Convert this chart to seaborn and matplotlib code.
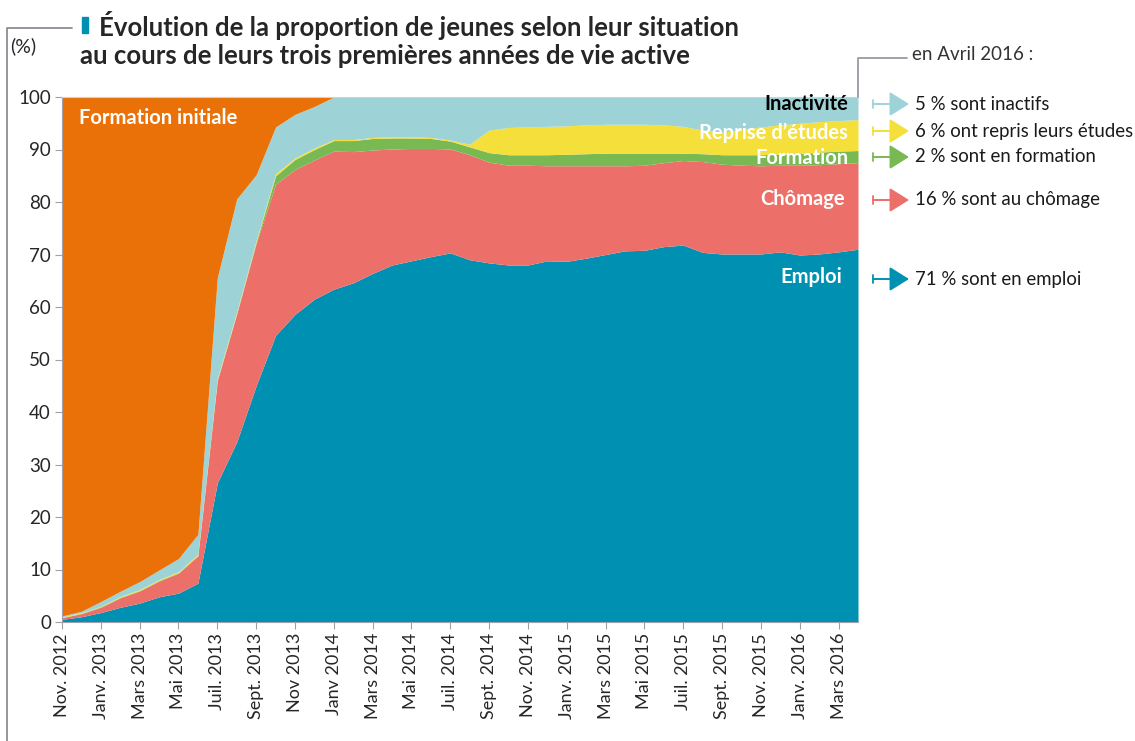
import numpy as np
import matplotlib
matplotlib.use("Agg")
from matplotlib import pyplot as plt
from matplotlib.patches import FancyArrowPatch, Rectangle
from matplotlib.lines import Line2D
import seaborn as sns

# share of young people by situation, monthly from Nov. 2012 to Apr. 2016 (%)
emploi = [0.5, 1.0, 1.8, 2.8, 3.6, 4.8, 5.5, 7.4, 26.5, 34.3, 45.0, 54.6, 58.6, 61.5,
          63.4, 64.6, 66.4, 68.0, 68.8, 69.6, 70.3, 69.0, 68.4, 68.0, 68.0, 68.8, 68.7,
          69.3, 70.0, 70.7, 70.8, 71.5, 71.8, 70.4, 70.1, 70.1, 70.1, 70.5, 69.9, 70.1,
          70.5, 71.0]
chomage = [0.3, 0.6, 1.0, 1.8, 2.3, 3.0, 3.8, 5.2, 19.5, 24.4, 27.1, 28.8, 27.6, 26.5,
           26.3, 25.0, 23.5, 22.1, 21.4, 20.6, 19.8, 20.0, 19.2, 19.0, 19.0, 18.1, 18.2,
           17.6, 16.9, 16.2, 16.2, 16.0, 16.1, 17.3, 17.1, 16.9, 16.8, 16.5, 17.1, 17.0,
           16.8, 16.5]
formation = [0.05, 0.05, 0.1, 0.1, 0.1, 0.1, 0.1, 0.1, 0.1, 0.1, 0.3, 1.6, 1.9, 2.0,
             2.0, 2.1, 2.2, 2.1, 2.0, 1.9, 1.5, 1.5, 1.8, 2.0, 2.0, 2.1, 2.2,
             2.3, 2.4, 2.4, 2.3, 1.8, 1.4, 1.5, 1.8, 2.0, 2.1, 2.1, 2.2, 2.4,
             2.4, 2.3]
reprise = [0.1, 0.1, 0.1, 0.15, 0.2, 0.2, 0.2, 0.2, 0.3, 0.3, 0.3, 0.4, 0.3, 0.3,
           0.2, 0.2, 0.2, 0.2, 0.2, 0.2, 0.2, 0.5, 4.3, 5.2, 5.3, 5.4, 5.4,
           5.5, 5.5, 5.5, 5.5, 5.4, 5.1, 4.5, 4.3, 4.8, 5.3, 5.6, 5.8, 5.8,
           5.8, 5.9]
inactivite = [0.2, 0.3, 0.9, 1.0, 1.5, 1.8, 2.5, 3.8, 19.2, 21.5, 12.5, 8.9, 8.3, 7.9,
              8.1, 8.1, 7.7, 7.6, 7.6, 7.7, 8.2, 9.0, 6.3, 5.8, 5.7, 5.6, 5.5,
              5.3, 5.2, 5.2, 5.2, 5.3, 5.6, 6.3, 6.7, 6.2, 5.7, 5.3, 5.0, 4.7,
              4.5, 4.3]
formation_initiale = [98.8, 97.9, 96.1, 94.1, 92.3, 90.1, 87.9, 83.3, 34.4, 19.4, 14.8,
                      5.7, 3.3, 1.8, 0, 0, 0, 0, 0, 0, 0, 0, 0, 0, 0, 0, 0, 0, 0, 0,
                      0, 0, 0, 0, 0, 0, 0, 0, 0, 0, 0, 0]

tick_labels = ["Nov. 2012", "Janv. 2013", "Mars 2013", "Mai 2013", "Juil. 2013",
               "Sept. 2013", "Nov 2013", "Janv 2014", "Mars 2014", "Mai 2014",
               "Juil. 2014", "Sept. 2014", "Nov. 2014", "Janv. 2015", "Mars 2015",
               "Mai 2015", "Juil. 2015", "Sept. 2015", "Nov. 2015", "Janv. 2016",
               "Mars 2016"]

notes = ["5 % sont inactifs", "6 % ont repris leurs études", "2 % sont en formation",
         "16 % sont au chômage", "71 % sont en emploi"]

colors = ["#0090b1", "#ec6f69", "#79b954", "#f5df3a", "#9dd3d7", "#ea7108"]

sns.set_style("ticks")
plt.rcParams["font.family"] = ["Lato", "DejaVu Sans"]

W, H = 1135, 741
fig = plt.figure(figsize=(W / 100, H / 100), dpi=100)
ax = fig.add_axes([62 / W, 1 - 622 / H, 796 / W, 525 / H])

x = np.arange(len(emploi))
ax.stackplot(x, emploi, chomage, formation, reprise, inactivite, formation_initiale,
             colors=colors, linewidth=0)

ax.set_xlim(0, len(emploi) - 1)
ax.set_ylim(0, 100)
ax.set_yticks(range(0, 101, 10))
ax.set_xticks(x[::2])
ax.set_xticklabels(tick_labels, rotation=90)
ax.tick_params(axis="y", labelsize=13.5, length=5, color="#a0a0aa", pad=3)
ax.tick_params(axis="x", labelsize=13, length=5, color="#a0a0aa", pad=3)
for s in ["left", "bottom"]:
    ax.spines[s].set_color("#a0a0aa")
ax.spines["top"].set_color("#d0d0d4")
ax.spines["right"].set_visible(False)

# labels inside the areas
lab = dict(fontsize=14.5, fontweight="bold", va="center")
ax.text(0.9, 96, "Formation initiale", color="white", ha="left", **lab)
ax.text(40.5, 98.6, "Inactivité", color="black", ha="right", **lab)
ax.text(40.5, 93.1, "Reprise d’études", color="white", ha="right", **lab)
ax.text(40.5, 88.4, "Formation", color="white", ha="right", **lab)
ax.text(40.3, 80.6, "Chômage", color="white", ha="right", **lab)
ax.text(40.2, 65.7, "Emploi", color="white", ha="right", **lab)


def fx(px):
    return px / W


def fy(py):
    return 1 - py / H


# right side notes with arrows
arrow_cols = [colors[4], colors[3], colors[2], colors[1], colors[0]]
arrow_y = [104, 131, 157, 200, 279]
for txt, col, py in zip(notes, arrow_cols, arrow_y):
    fig.add_artist(FancyArrowPatch((fx(873), fy(py)), (fx(909), fy(py)),
                                   transform=fig.transFigure,
                                   arrowstyle="-|>,head_length=0.8,head_width=0.5",
                                   mutation_scale=15, color=col, linewidth=1.4,
                                   shrinkA=0, shrinkB=0))
    fig.add_artist(Line2D([fx(873), fx(873)], [fy(py - 4), fy(py + 4)],
                          transform=fig.transFigure, color=col, linewidth=1.3))
    fig.text(fx(915), fy(py), txt, fontsize=13.4, color="#1a1a1a", ha="left", va="center")

fig.add_artist(Line2D([fx(858), fx(858), fx(907)], [fy(97), fy(58), fy(58)],
                      transform=fig.transFigure, color="#9a9aa5", linewidth=1.3))
fig.text(fx(912), fy(55), "en Avril 2016 :", fontsize=13.5, color="#333333",
         ha="left", va="center")

# left frame and title
fig.add_artist(Line2D([fx(7), fx(7), fx(72)], [0, fy(28), fy(28)],
                      transform=fig.transFigure, color="#8c8c96", linewidth=1.3))
fig.add_artist(Rectangle((fx(82), fy(33)), fx(6), 16 / H, transform=fig.transFigure,
                         color="#0090b1"))
fig.text(fx(99), fy(25), "Évolution de la proportion de jeunes selon leur situation",
         fontsize=18.5, fontweight="bold", ha="left", va="center")
fig.text(fx(80), fy(56), "au cours de leurs trois premières années de vie active",
         fontsize=18.5, fontweight="bold", ha="left", va="center")
fig.text(fx(10), fy(46), "(%)", fontsize=14, ha="left", va="center")

fig.savefig("out.png", dpi=100)
